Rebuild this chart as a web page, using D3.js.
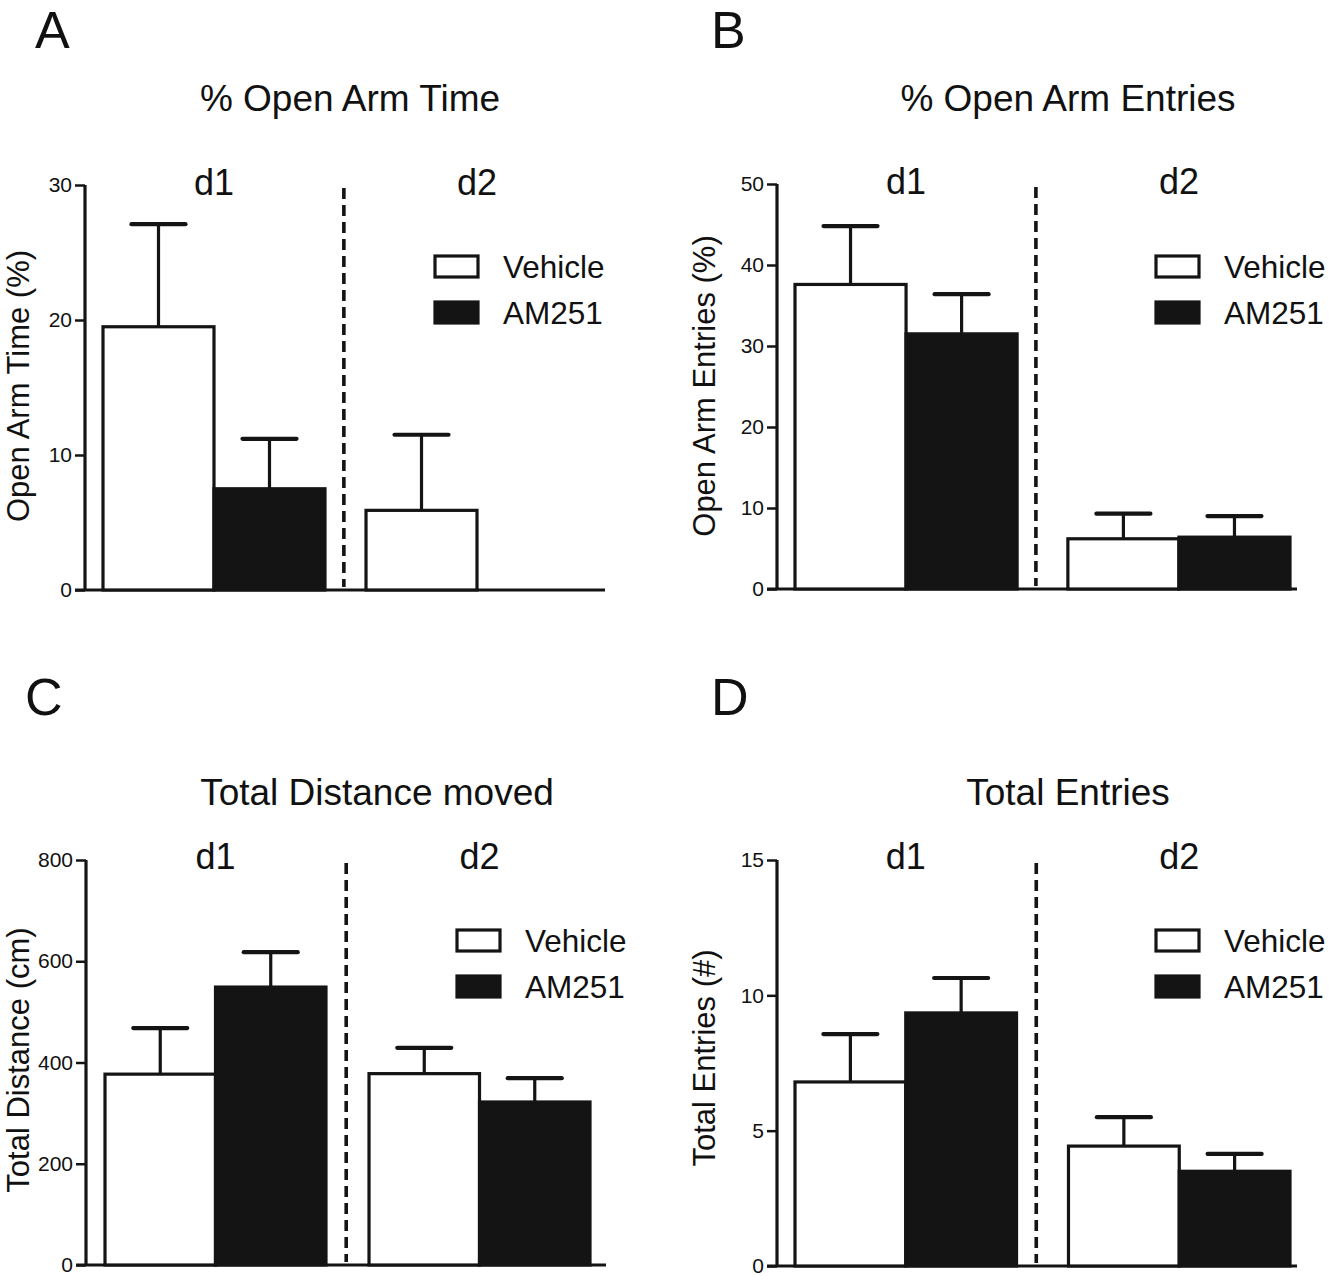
<!DOCTYPE html>
<html>
<head>
<meta charset="utf-8">
<script src="https://cdn.jsdelivr.net/npm/d3@7"></script>
<style>
  html, body { margin: 0; padding: 0; background: #fff; }
  svg { display: block; }
  text { font-family: "Liberation Sans", Arial, Helvetica, sans-serif; fill: #111; }
</style>
</head>
<body>
<svg id="chart" width="1331" height="1276"></svg>
<script>
// ---------------- DATA ----------------
const categories = ["d1", "d2"];
const series = ["Vehicle", "AM251"];

// Panel A: % Open Arm Time
const openTimeVehicle = [19.5, 5.9];
const openTimeVehicleSem = [7.6, 5.6];
const openTimeAM251 = [7.5, 0];
const openTimeAM251Sem = [3.7, 0];
const openTimeTicks = [0, 10, 20, 30];

// Panel B: % Open Arm Entries
const openEntriesVehicle = [37.6, 6.2];
const openEntriesVehicleSem = [7.2, 3.1];
const openEntriesAM251 = [31.5, 6.4];
const openEntriesAM251Sem = [4.9, 2.6];
const openEntriesTicks = [0, 10, 20, 30, 40, 50];

// Panel C: Total Distance moved
const distanceVehicle = [377, 378];
const distanceVehicleSem = [91, 51];
const distanceAM251 = [549, 322];
const distanceAM251Sem = [69, 47];
const distanceTicks = [0, 200, 400, 600, 800];

// Panel D: Total Entries
const entriesVehicle = [6.8, 4.43];
const entriesVehicleSem = [1.77, 1.07];
const entriesAM251 = [9.35, 3.5];
const entriesAM251Sem = [1.29, 0.64];
const entriesTicks = [0, 5, 10, 15];

// ---------------- LAYOUT ----------------
const panels = [
  { letter: "A", title: "% Open Arm Time", ylabel: "Open Arm Time (%)",
    mean: [openTimeVehicle, openTimeAM251], sem: [openTimeVehicleSem, openTimeAM251Sem],
    ticks: openTimeTicks, ymax: 30,
    axisX: 85, yTop: 185, yBot: 590, xStart: 103, xEnd: 588, pad: 0.156, axisEnd: 605, dashFrac: 0.46,
    letterPos: [35, 48], titlePos: [350, 111], dY: 195, ylabelPos: [28.5, 386],
    legendX: 435, legendY: 256 },
  { letter: "B", title: "% Open Arm Entries", ylabel: "Open Arm Entries (%)",
    mean: [openEntriesVehicle, openEntriesAM251], sem: [openEntriesVehicleSem, openEntriesAM251Sem],
    ticks: openEntriesTicks, ymax: 50,
    axisX: 777, yTop: 184, yBot: 589, xStart: 795, xEnd: 1290, pad: 0.186, axisEnd: 1297, dashFrac: 0.37,
    letterPos: [711, 48], titlePos: [1068, 111], dY: 194, ylabelPos: [715, 386],
    legendX: 1156, legendY: 256 },
  { letter: "C", title: "Total Distance moved", ylabel: "Total Distance (cm)",
    mean: [distanceVehicle, distanceAM251], sem: [distanceVehicleSem, distanceAM251Sem],
    ticks: distanceTicks, ymax: 800,
    axisX: 86, yTop: 860, yBot: 1265, xStart: 105, xEnd: 590, pad: 0.163, axisEnd: 606, dashFrac: 0.47,
    letterPos: [25, 715], titlePos: [377, 805], dY: 869, ylabelPos: [28.5, 1060],
    legendX: 457, legendY: 930 },
  { letter: "D", title: "Total Entries", ylabel: "Total Entries (#)",
    mean: [entriesVehicle, entriesAM251], sem: [entriesVehicleSem, entriesAM251Sem],
    ticks: entriesTicks, ymax: 15,
    axisX: 777, yTop: 860, yBot: 1266, xStart: 795, xEnd: 1290, pad: 0.19, axisEnd: 1297, dashFrac: 0.38,
    letterPos: [711, 715], titlePos: [1068, 805], dY: 869, ylabelPos: [715, 1058],
    legendX: 1156, legendY: 930 }
];

const INK = "#141414";
const SW = 3.2;
const svg = d3.select("#chart");

panels.forEach(p => {
  const g = svg.append("g");
  const y = d3.scaleLinear().domain([0, p.ymax]).range([p.yBot, p.yTop]);
  const x0 = d3.scaleBand().domain(categories).range([p.xStart, p.xEnd]).paddingInner(p.pad).paddingOuter(0);
  const x1 = d3.scaleBand().domain(series).range([0, x0.bandwidth()]);

  // panel letter
  g.append("text").attr("x", p.letterPos[0]).attr("y", p.letterPos[1])
    .attr("font-size", 52).text(p.letter);
  // title
  g.append("text").attr("x", p.titlePos[0]).attr("y", p.titlePos[1])
    .attr("text-anchor", "middle").attr("font-size", 37).text(p.title);
  // day labels
  g.selectAll(".dlab").data(categories).enter().append("text")
    .attr("x", d => x0(d) + x0.bandwidth() / 2).attr("y", p.dY)
    .attr("text-anchor", "middle").attr("font-size", 36).text(d => d);
  // y label
  g.append("text")
    .attr("transform", `translate(${p.ylabelPos[0]},${p.ylabelPos[1]}) rotate(-90)`)
    .attr("text-anchor", "middle").attr("font-size", 31).text(p.ylabel);

  // y axis
  const yAxis = d3.axisLeft(y).tickValues(p.ticks).tickSize(10).tickPadding(3);
  const ya = g.append("g").attr("transform", `translate(${p.axisX},0)`).call(yAxis);
  ya.select(".domain").attr("stroke", INK).attr("stroke-width", SW).attr("d", `M0,${p.yTop}V${p.yBot}`);
  ya.selectAll(".tick line").attr("stroke", INK).attr("stroke-width", 2.5);
  ya.selectAll(".tick text").attr("font-size", 21).attr("fill", "#111")
    .attr("font-family", '"Liberation Sans", Arial, sans-serif');

  // x axis baseline
  g.append("line").attr("x1", p.axisX - 10).attr("x2", p.axisEnd)
    .attr("y1", p.yBot).attr("y2", p.yBot).attr("stroke", INK).attr("stroke-width", SW);

  // bars
  const rows = [];
  categories.forEach((c, ci) => series.forEach((s, si) => {
    rows.push({ c, s, si, v: p.mean[si][ci], e: p.sem[si][ci] });
  }));
  const drawn = rows.filter(r => r.v > 0);

  // error bars (behind bars)
  const eb = g.append("g");
  drawn.forEach(r => {
    const cx = x0(r.c) + x1(r.s) + x1.bandwidth() / 2;
    eb.append("line").attr("x1", cx).attr("x2", cx).attr("y1", y(r.v)).attr("y2", y(r.v + r.e))
      .attr("stroke", INK).attr("stroke-width", SW);
    eb.append("line").attr("x1", cx - 27).attr("x2", cx + 27).attr("y1", y(r.v + r.e)).attr("y2", y(r.v + r.e))
      .attr("stroke", INK).attr("stroke-width", 4.2).attr("stroke-linecap", "round");
  });

  g.selectAll(".bar").data(drawn).enter().append("rect")
    .attr("x", r => x0(r.c) + x1(r.s))
    .attr("y", r => y(r.v))
    .attr("width", x1.bandwidth())
    .attr("height", r => p.yBot - y(r.v))
    .attr("fill", r => r.si === 0 ? "#fff" : INK)
    .attr("stroke", INK).attr("stroke-width", SW);

  // dashed separator
  const dx = x0("d1") + x0.bandwidth() + (x0("d2") - x0("d1") - x0.bandwidth()) * p.dashFrac;
  g.append("line").attr("x1", dx).attr("x2", dx).attr("y1", p.yTop + 3).attr("y2", p.yBot - 3)
    .attr("stroke", INK).attr("stroke-width", 3.6).attr("stroke-dasharray", "11,6");

  // legend
  series.forEach((s, si) => {
    const ly = p.legendY + si * 46;
    g.append("rect").attr("x", p.legendX).attr("y", ly).attr("width", 43).attr("height", 21)
      .attr("fill", si === 0 ? "#fff" : INK).attr("stroke", INK).attr("stroke-width", SW);
    g.append("text").attr("x", p.legendX + 68).attr("y", ly + 22)
      .attr("font-size", 31.5).text(s);
  });
});
</script>
</body>
</html>
